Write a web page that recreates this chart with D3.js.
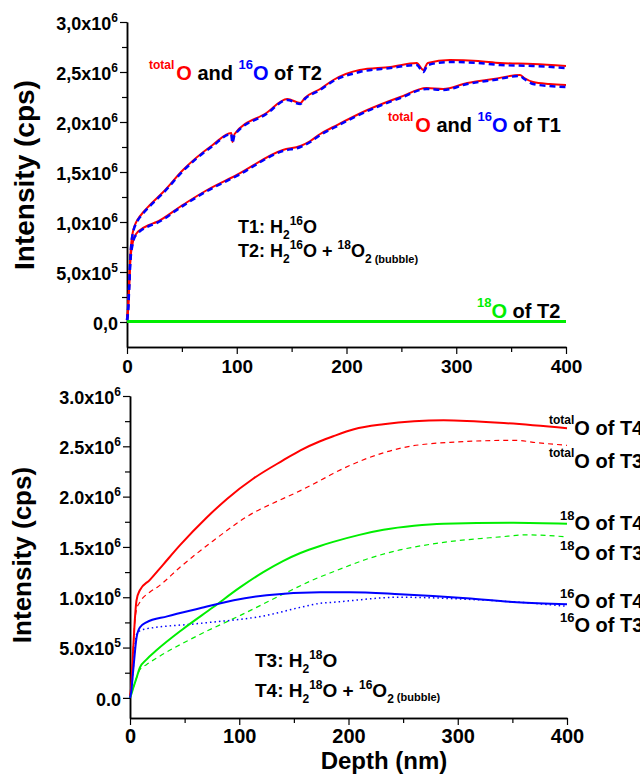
<!DOCTYPE html>
<html>
<head>
<meta charset="utf-8">
<script src="https://cdn.jsdelivr.net/npm/d3@7"></script>
<style>
  body { margin: 0; background: #fff; }
  svg { font-family: "Liberation Sans", Arial, sans-serif; font-weight: bold; }
</style>
</head>
<body>
<div id="chart"></div>
<script>
// ---- data (depth in nm, intensity in 1e6 cps) ----
const depthT2tot = [0,1,2,3,4,5,6,8,10,15,20,33,51,78,95,96,98,127,146,158,162,176,188,212,240,264,270,274,294,320,340,370,400]
const valT2tot   = [0.03,0.15,0.4,0.65,0.8,0.88,0.93,0.99,1.03,1.1,1.16,1.3,1.52,1.77,1.89,1.8,1.88,2.09,2.23,2.19,2.24,2.33,2.42,2.52,2.55,2.59,2.52,2.59,2.62,2.61,2.59,2.58,2.56]
const depthT2o16 = [0,1,2,3,4,5,6,8,10,15,20,33,51,78,95,96,98,127,146,158,162,176,188,212,240,264,270,274,294,320,340,370,400]
const valT2o16   = [0.02,0.14,0.39,0.64,0.79,0.87,0.92,0.98,1.02,1.09,1.15,1.29,1.51,1.76,1.88,1.79,1.87,2.08,2.22,2.18,2.23,2.32,2.41,2.5,2.54,2.57,2.5,2.57,2.6,2.59,2.57,2.56,2.54]
const depthT1tot = [0,1,2,3,4,5,6,9,12,20,27,48,55,73,100,142,158,167,176,188,219,249,273,288,310,334,358,362,370,385,400]
const valT1tot   = [0.03,0.12,0.35,0.6,0.72,0.78,0.83,0.89,0.92,0.97,1.0,1.15,1.2,1.32,1.47,1.72,1.76,1.81,1.88,1.95,2.12,2.25,2.34,2.33,2.39,2.43,2.47,2.44,2.4,2.38,2.37]
const depthT1o16 = depthT1tot
const valT1o16   = [0.02,0.11,0.34,0.59,0.71,0.77,0.82,0.88,0.91,0.96,0.99,1.14,1.19,1.31,1.46,1.71,1.75,1.8,1.87,1.94,2.11,2.24,2.33,2.32,2.38,2.42,2.46,2.43,2.38,2.36,2.35]
const depthT2o18 = [0,400]
const valT2o18   = [0.005,0.005]

const depthT4tot = [0,1,2,3,4,6,9,18,30,46,70,89,113,140,156,174,186,205,232,260,287,345,400]
const valT4tot   = [0.02,0.1,0.3,0.5,0.7,0.97,1.07,1.17,1.32,1.52,1.79,1.98,2.18,2.36,2.46,2.55,2.6,2.67,2.72,2.75,2.76,2.73,2.68]
const depthT3tot = [0,1,2,3,4,6,9,18,25,46,76,113,134,156,174,186,217,247,293,354,369,400]
const valT3tot   = [0.02,0.1,0.3,0.5,0.7,0.88,0.95,1.05,1.1,1.3,1.56,1.84,1.95,2.06,2.16,2.23,2.38,2.48,2.54,2.56,2.54,2.51]
const depthT4o18 = [0,1,3,6,9,15,25,48,76,101,122,140,156,174,186,210,232,260,287,351,400]
const valT4o18   = [0,0.03,0.1,0.2,0.3,0.38,0.48,0.68,0.9,1.1,1.25,1.36,1.44,1.51,1.55,1.62,1.67,1.71,1.73,1.74,1.73]
const depthT3o18 = [0,1,3,6,9,15,25,64,101,140,167,190,217,247,277,339,363,400]
const valT3o18   = [0,0.03,0.1,0.2,0.28,0.33,0.4,0.63,0.82,1.03,1.17,1.27,1.38,1.47,1.53,1.6,1.62,1.6]
const depthT4o16 = [0,1,3,6,9,15,34,64,95,125,174,201,247,308,354,400]
const valT4o16   = [0,0.05,0.28,0.6,0.7,0.75,0.81,0.89,0.97,1.02,1.05,1.05,1.03,0.99,0.95,0.93]
const depthT3o16 = [0,1,3,6,12,64,125,156,174,186,247,308,369,400]
const valT3o16   = [0,0.05,0.3,0.63,0.68,0.74,0.82,0.9,0.94,0.95,1.0,0.98,0.94,0.91]

const xTicks = [0,100,200,300,400]
const yTicks = [0,5e5,1e6,1.5e6,2e6,2.5e6,3e6]
const topYLabels = [["0,0",""],["5,0x10","5"],["1,0x10","6"],["1,5x10","6"],["2,0x10","6"],["2,5x10","6"],["3,0x10","6"]]
const botYLabels = [["0.0",""],["5.0x10","5"],["1.0x10","6"],["1.5x10","6"],["2.0x10","6"],["2.5x10","6"],["3.0x10","6"]]

const RED = "#ff0000", BLUE = "#0000ff", GREEN = "#00ee00"

// ---- svg ----
const svg = d3.select("#chart").append("svg")
    .attr("width", 640).attr("height", 775)

function panel(cfg){
  const x = d3.scaleLinear().domain([0,400]).range(cfg.xr)
  const y = d3.scaleLinear().domain(cfg.yd).range(cfg.yr)
  const g = svg.append("g")

  // minor ticks
  g.append("g").attr("transform", `translate(0,${cfg.yr[0]})`)
    .call(d3.axisBottom(x).tickValues(d3.range(50,400,100)).tickSize(5).tickFormat("").tickSizeOuter(0))
  g.append("g").attr("transform", `translate(${cfg.xr[0]},0)`)
    .call(d3.axisLeft(y).tickValues(d3.range(-2.5e5, 3e6, 5e5).filter(v => v > cfg.yd[0])).tickSize(5).tickFormat("").tickSizeOuter(0))

  const xa = g.append("g").attr("transform", `translate(0,${cfg.yr[0]})`)
    .call(d3.axisBottom(x).tickValues(xTicks).tickSize(7).tickPadding(cfg.xPad).tickSizeOuter(0))
  xa.selectAll("text").attr("font-size", cfg.xFont).attr("fill", "#000")

  const ya = g.append("g").attr("transform", `translate(${cfg.xr[0]},0)`)
    .call(d3.axisLeft(y).tickValues(yTicks).tickSize(7).tickPadding(2).tickSizeOuter(0))
  ya.selectAll(".tick text").each(function(d,i){
    const t = d3.select(this).text(null).attr("font-size", 18).attr("fill", "#000").attr("dy", "0.4em")
    t.append("tspan").text(cfg.labels[i][0])
    if (cfg.labels[i][1]) t.append("tspan").attr("dy", -8).attr("font-size", 12).text(cfg.labels[i][1])
  })
  g.selectAll(".domain").attr("stroke-width", 1.5)
  g.selectAll(".tick line").attr("stroke-width", 1.2)

  g.append("text")
    .attr("transform", `translate(${cfg.ylab[0]},${cfg.ylab[1]}) rotate(-90)`)
    .attr("text-anchor", "middle").attr("font-size", cfg.ylab[2])
    .text("Intensity (cps)")

  const line = d3.line().curve(d3.curveMonotoneX)
      .x(d => x(d[0])).y(d => y(d[1] * 1e6))
  cfg.series.forEach(s => {
    g.append("path")
      .datum(d3.zip(s.depth, s.val))
      .attr("d", line)
      .attr("fill", "none")
      .attr("stroke", s.color)
      .attr("stroke-width", s.w)
      .attr("stroke-dasharray", s.dash || null)
  })
  return g
}

panel({
  xr: [127,566], yd: [-2.5e5, 3e6], yr: [347, 22], xPad: 6, xFont: 19,
  labels: topYLabels, ylab: [34, 175, 28],
  series: [
    {depth: depthT2o18, val: valT2o18, color: GREEN, w: 3},
    {depth: depthT2tot, val: valT2tot, color: RED, w: 2},
    {depth: depthT2o16, val: valT2o16, color: BLUE, w: 2.5, dash: "6,4"},
    {depth: depthT1tot, val: valT1tot, color: RED, w: 2},
    {depth: depthT1o16, val: valT1o16, color: BLUE, w: 2.5, dash: "6,4"}
  ]
})

panel({
  xr: [130,567], yd: [-2e5, 3e6], yr: [718, 396], xPad: 4, xFont: 20,
  labels: botYLabels, ylab: [31, 555, 26],
  series: [
    {depth: depthT3tot, val: valT3tot, color: RED, w: 1.2, dash: "5,4"},
    {depth: depthT3o18, val: valT3o18, color: GREEN, w: 1.2, dash: "5,4"},
    {depth: depthT3o16, val: valT3o16, color: BLUE, w: 1.5, dash: "1.5,3"},
    {depth: depthT4tot, val: valT4tot, color: RED, w: 2},
    {depth: depthT4o18, val: valT4o18, color: GREEN, w: 2},
    {depth: depthT4o16, val: valT4o16, color: BLUE, w: 2}
  ]
})

svg.append("text").attr("x", 384).attr("y", 769).attr("text-anchor", "middle")
  .attr("font-size", 24).text("Depth (nm)")

// ---- annotations: parts = [text, colour, size, shift] ----
function rich(x, y, parts){
  const t = svg.append("text").attr("x", x).attr("y", y)
  let prev = 0
  parts.forEach(p => {
    t.append("tspan").attr("dy", p[3] - prev).attr("font-size", p[2]).attr("fill", p[1]).text(p[0])
    prev = p[3]
  })
}
const K = "#000"
rich(149, 80, [["total",RED,12,-11],[" ",K,7,0],["O",RED,20,0],[" and ",K,20,0],["16",BLUE,13,-11],["O",BLUE,20,0],[" of T2",K,20,0]])
rich(388, 132, [["total",RED,12,-11],[" ",K,7,0],["O",RED,20,0],[" and ",K,20,0],["16",BLUE,13,-11],["O",BLUE,20,0],[" of T1",K,20,0]])
rich(477, 318, [["18",GREEN,13,-11],["O",GREEN,20,0],[" of T2",K,20,0]])
rich(238, 233, [["T1: H",K,18,0],["2",K,12,6],["16",K,12,-8],["O",K,18,0]])
rich(238, 257, [["T2: H",K,18,0],["2",K,12,6],["16",K,12,-8],["O + ",K,18,0],["18",K,12,-8],["O",K,18,0],["2",K,12,6],[" (bubble)",K,11,6]])

rich(549, 435, [["total",K,12,-11],["O of T4",K,20,0]])
rich(549, 468, [["total",K,12,-11],["O of T3",K,20,0]])
rich(560, 530, [["18",K,13,-10],["O of T4",K,20,0]])
rich(560, 560, [["18",K,13,-10],["O of T3",K,20,0]])
rich(560, 608, [["16",K,13,-10],["O of T4",K,20,0]])
rich(560, 632, [["16",K,13,-10],["O of T3",K,20,0]])
rich(255, 667, [["T3: H",K,19,0],["2",K,12,6],["18",K,12,-8],["O",K,19,0]])
rich(255, 697, [["T4: H",K,19,0],["2",K,12,6],["18",K,12,-8],["O + ",K,19,0],["16",K,12,-8],["O",K,19,0],["2",K,12,6],["   (bubble)",K,11,4]])
</script>
</body>
</html>
